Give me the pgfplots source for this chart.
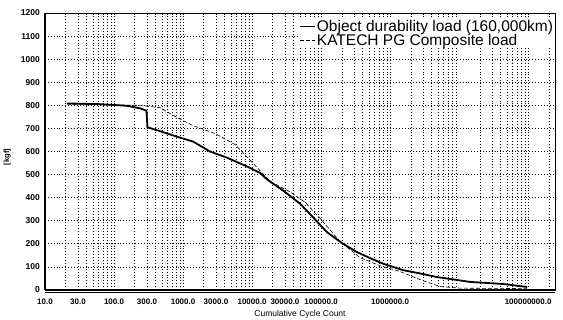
\documentclass[border=0pt]{standalone}
\usepackage{fontspec}
\setmainfont{Liberation Sans}
\usepackage{pgfplots}
\usepackage{pgfplotstable}
\pgfplotsset{compat=1.18}

% Object durability load (160,000 km)
\pgfplotstableread{
x val
20.8 808
62.7 805
154 798
238 787
295 777
305 705
464 688
905 660
1396 643
2461 600
4345 573
8466 535
13060 507
16490 479
28120 431
49640 374
76560 315
122200 250
208400 200
332600 164
512900 138
792000 114
1542000 86
3007000 69
4797000 56
14430000 35
43450000 26
96800000 13
}\objectload

% KATECH PG composite load
\pgfplotstableread{
x val
20.8 805
238 800
464 790
766 752
1396 712
2910 678
5675 630
11040 540
18240 470
35560 425
58610 380
96800 310
188400 210
367500 140
716400 105
1397000 80
2720000 45
5300000 15
10300000 8
96800000 6
}\katechload

\begin{document}
\begin{tikzpicture}
\path[use as bounding box] (-45pt,-30pt) rectangle (518pt,290pt);
\begin{axis}[
  scale only axis, width=510pt, height=277pt,
  xmode=log, log basis x=10,
  xmin=10, xmax=2.45e8,
  ymin=0, ymax=1200, ytick distance=100,
  clip=false,
  /pgf/number format/1000 sep={},
  /pgf/number format/assume math mode=true,
  xtick={10,30,100,300,1000,3000,10000,30000,100000,1000000,100000000},
  xticklabels={10.0,30.0,100.0,300.0,1000.0,3000.0,10000.0,30000.0,100000.0,1000000.0,100000000.0},
  minor xtick={20,40,50,60,70,80,90,
    200,400,500,600,700,800,900,
    2000,4000,5000,6000,7000,8000,9000,
    20000,40000,50000,60000,70000,80000,90000,
    200000,300000,400000,500000,600000,700000,800000,900000,
    2e6,3e6,4e6,5e6,6e6,7e6,8e6,9e6,
    2e7,3e7,4e7,5e7,6e7,7e7,8e7,9e7,2e8},
  grid=both,
  major grid style={black, line width=0.7pt, dash pattern=on 0.9pt off 2pt},
  minor grid style={black, line width=0.7pt, dash pattern=on 0.9pt off 2pt},
  major tick length=0pt, minor tick length=0pt,
  axis line style={line width=0.6pt},
  xticklabel style={font=\fontsize{8}{9}\selectfont\bfseries, inner sep=0pt, yshift=-9pt},
  yticklabel style={font=\fontsize{8.5}{9}\selectfont\bfseries, inner sep=0pt, xshift=-5pt},
  xlabel={Cumulative Cycle Count},
  xlabel style={font=\fontsize{8.5}{9}\selectfont, at={(axis description cs:0.5,-0.088)}, anchor=center, inner sep=0pt},
  ylabel={[kgf]},
  ylabel style={font=\fontsize{7.5}{8}\selectfont\bfseries, at={(axis description cs:-0.074,0.48)}, anchor=center, inner sep=0pt},
  legend style={at={(axis description cs:1,0.978)}, anchor=north east, draw=none, fill=white,
    font=\fontsize{15.5}{15.5}\selectfont, inner xsep=1pt, inner ysep=0pt, row sep=0pt,
    nodes={inner sep=0.8pt}},
  legend cell align=left,
  legend image code/.code={\draw[#1] (0pt,0pt) -- (15pt,0pt);},
]
\addplot[black, line width=1.8pt] table[x=x, y=val] {\objectload};
\addlegendentry{Object durability load (160,000km)}
\addplot[black, line width=0.6pt, dash pattern=on 4pt off 2pt] table[x=x, y=val] {\katechload};
\addlegendentry{KATECH PG Composite load}
% heavy frame on the left and bottom
\draw[line width=1.6pt] (rel axis cs:0,0) -- (rel axis cs:0,1);
\draw[line width=1.2pt] (rel axis cs:0,0) -- (rel axis cs:1,0);
\draw[line width=0.6pt] ([yshift=-2.5pt]rel axis cs:0,0) -- ([yshift=-2.5pt]rel axis cs:1,0);
\end{axis}
\end{tikzpicture}
\end{document}
